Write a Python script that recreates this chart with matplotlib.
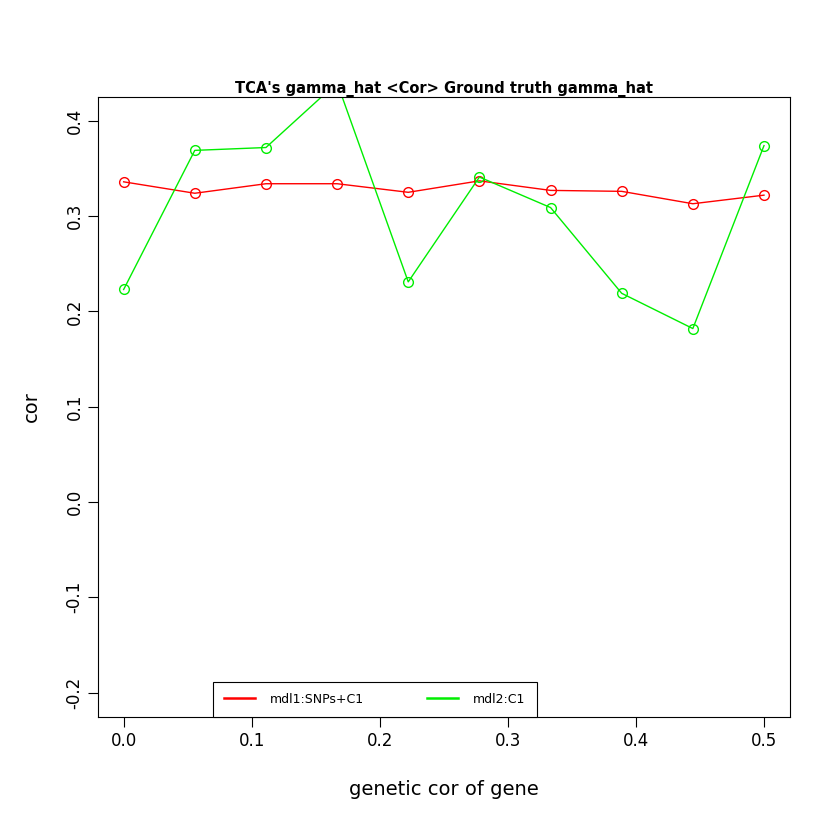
import matplotlib
matplotlib.use("Agg")
import matplotlib.pyplot as plt

gen_cor = [i / 18 for i in range(10)]
mdl1 = [0.336, 0.324, 0.334, 0.334, 0.325, 0.337, 0.327, 0.326, 0.313, 0.322]
mdl2 = [0.223, 0.369, 0.372, 0.44, 0.231, 0.341, 0.309, 0.219, 0.182, 0.374]
xticks = [0.0, 0.1, 0.2, 0.3, 0.4, 0.5]
yticks = [-0.2, -0.1, 0.0, 0.1, 0.2, 0.3, 0.4]

fig = plt.figure(figsize=(8.4, 8.4), dpi=100)
ax = fig.add_axes([0.1167, 0.1464, 0.8233, 0.7381])
ax.plot(gen_cor, mdl1, color="red", marker="o", mfc="none", ms=7, lw=1, label="mdl1:SNPs+C1")
ax.plot(gen_cor, mdl2, color="#00ee00", marker="o", mfc="none", ms=7, lw=1, label="mdl2:C1")
ax.set_xlim(-0.02, 0.52)
ax.set_ylim(-0.2257, 0.425)
ax.set_xticks(xticks)
ax.set_xticklabels([f"{v:.1f}" for v in xticks], fontsize=12)
ax.set_yticks(yticks)
ax.set_yticklabels([f"{v:.1f}" for v in yticks], fontsize=12, rotation=90, va="center")
ax.tick_params(length=7)
for s in ax.spines.values():
    s.set_linewidth(0.8)
ax.set_xlabel("genetic cor of gene", fontsize=14, labelpad=22)
ax.set_ylabel("cor", fontsize=14, labelpad=18)
ax.set_title("TCA's gamma_hat <Cor> Ground truth gamma_hat", fontsize=10.5, fontweight="bold", pad=2)
leg = ax.legend(loc="lower center", bbox_to_anchor=(0.4, 0), ncol=2, fontsize=9, fancybox=False,
                framealpha=1, edgecolor="black", handlelength=2.5, columnspacing=5,
                borderpad=0.9, borderaxespad=0, handletextpad=1.2)
for h in leg.legend_handles:
    h.set_marker("")
    h.set_linewidth(1.8)
leg.get_frame().set_linewidth(0.8)
fig.savefig("out.png")
